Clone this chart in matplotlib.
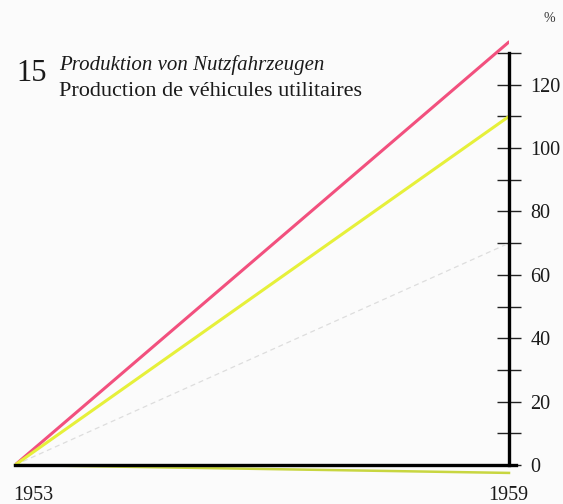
import matplotlib
matplotlib.use("Agg")
import matplotlib.pyplot as plt
from matplotlib.ticker import MultipleLocator

years = [1953, 1959]
series_pink = [0, 133.5]
series_yellow = [0, 110]
series_grey = [0, 70]
series_low = [0, -2.5]
yticks = [0, 20, 40, 60, 80, 100, 120]
ytick_labels = ["0", "20", "40", "60", "80", "100", "120"]

plt.rcParams['font.family'] = ['Liberation Serif', 'DejaVu Serif']

fig = plt.figure(figsize=(5.63, 5.04), dpi=100)
fig.patch.set_facecolor('#fbfbfb')
# axis geometry: x 1953 -> 15px, 1959 -> 509px ; y 0 -> 465px, 130 -> 53px
ppu = (465 - 53) / 130.0
ymin, ymax = -8, 136
bottom_px = 465 + (0 - ymin) * ppu
top_px = 465 - ymax * ppu
ax = fig.add_axes([15 / 563, (504 - bottom_px) / 504, 494 / 563, (bottom_px - top_px) / 504])
ax.set_xlim(1953, 1959)
ax.set_ylim(ymin, ymax)
ax.patch.set_alpha(0)

ax.plot(years, series_pink, color='#f2507e', lw=2.2, solid_capstyle='round', zorder=3)
ax.plot(years, series_yellow, color='#e6f03a', lw=2.2, solid_capstyle='round', zorder=3)
ax.plot(years, series_grey, color='#dddddd', lw=0.9, ls=(0, (4, 3)), zorder=2)
ax.plot(years, series_low, color='#c8d640', lw=1.8, zorder=2, clip_on=False)

for s in ['top', 'left']:
    ax.spines[s].set_visible(False)
ax.spines['bottom'].set_position(('data', 0))
ax.spines['bottom'].set_bounds(1953, 1959.08)
ax.spines['bottom'].set_linewidth(2.4)
ax.spines['bottom'].set_zorder(4)
ax.spines['right'].set_bounds(0, 130)
ax.spines['right'].set_linewidth(2.4)
ax.spines['right'].set_zorder(4)

ax.set_xticks([])
ax.yaxis.tick_right()
ax.set_yticks(yticks)
ax.set_yticklabels(ytick_labels)
ax.yaxis.set_minor_locator(MultipleLocator(10))
ax.tick_params(axis='y', which='both', direction='inout', length=17, width=1.0,
               color='#222222', pad=7, labelsize=14.5, labelcolor='#1a1a1a')

fig.text(16 / 563, 1 - 81 / 504, "15", fontsize=22, color='#1a1a1a')
fig.text(59 / 563, 1 - 70 / 504, "Produktion von Nutzfahrzeugen", fontsize=15,
         style='italic', color='#1a1a1a')
fig.text(59 / 563, 1 - 96 / 504, "Production de véhicules utilitaires", fontsize=16,
         color='#1a1a1a')
fig.text(13 / 563, 1 - 500 / 504, "1953", fontsize=14.5, color='#1a1a1a')
fig.text(508 / 563, 1 - 500 / 504, "1959", fontsize=14.5, color='#1a1a1a', ha='center')
fig.text(549 / 563, 1 - 22 / 504, "%", fontsize=10, color='#333333', ha='center')

fig.savefig("out.png", dpi=100, facecolor=fig.get_facecolor())
